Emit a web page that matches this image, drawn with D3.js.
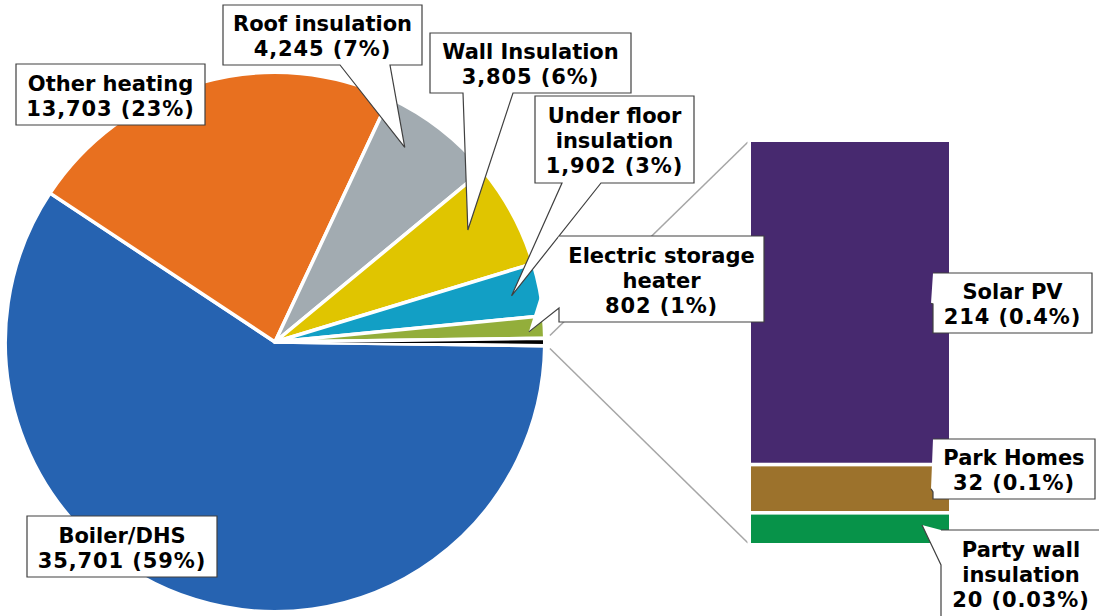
<!DOCTYPE html>
<html>
<head>
<meta charset="utf-8">
<script src="https://cdn.jsdelivr.net/npm/d3@7"></script>
<style>
  html, body { margin: 0; padding: 0; background: #fff; }
  svg { display: block; }
  text { font-family: "DejaVu Sans", Verdana, sans-serif; font-weight: bold; font-size: 21px; fill: #000; }
  tspan.num { letter-spacing: 0.9px; }
</style>
</head>
<body>
<svg id="chart" width="1099" height="616"></svg>
<script>
// Measures installed, split into the main pie and the "other" breakdown bar
const pieCategories = ["Boiler/DHS", "Other heating", "Roof insulation", "Wall Insulation",
                       "Under floor insulation", "Electric storage heater"];
const pieValues = [35701, 13703, 4245, 3805, 1902, 802];
const piePercents = ["59%", "23%", "7%", "6%", "3%", "1%"];
const pieColors = ["#2663b1", "#e8701f", "#a2abb1", "#e0c500", "#129fc5", "#93ae3b"];

const barCategories = ["Solar PV", "Park Homes", "Party wall insulation"];
const barValues = [214, 32, 20];
const barPercents = ["0.4%", "0.1%", "0.03%"];
const barColors = ["#47296f", "#9c722c", "#079349"];

const otherColor = "#000000";

// Label text lines for each category
const pieLabelLines = [["Boiler/DHS"], ["Other heating"], ["Roof insulation"], ["Wall Insulation"],
                       ["Under floor", "insulation"], ["Electric storage", "heater"]];
const barLabelLines = [["Solar PV"], ["Park Homes"], ["Party wall", "insulation"]];

const fmt = d3.format(",");
const svg = d3.select("#chart");
const gap = 3.5;   // white separator width

// ---- Pie ----
const cx = 275, cy = 342, R = 268;
const otherTotal = d3.sum(barValues);
const total = d3.sum(pieValues) + otherTotal;
const slices = pieValues.map((v, i) => ({ name: pieCategories[i], value: v, color: pieColors[i] }))
  .concat([{ name: "Other", value: otherTotal, color: otherColor }]);

const otherAngle = otherTotal / total * 2 * Math.PI;
const start = Math.PI / 2 + otherAngle / 2;   // the combined slice sits at 3 o'clock
const pie = d3.pie().sort(null).value(d => d.value).startAngle(start).endAngle(start + 2 * Math.PI);
const arcs = pie(slices);
const arc = d3.arc().innerRadius(0).outerRadius(R + gap / 2);

const gPie = svg.append("g").attr("transform", `translate(${cx},${cy})`);

// ---- Connector lines from the combined slice to the bar ----
const barX = 751, barW = 198, barTop = 142, barBottom = 543;
const oArc = arcs[arcs.length - 1];
const pt = (a, r) => [cx + r * Math.sin(a), cy - r * Math.cos(a)];
const spread = 0.01;
const e1 = pt(oArc.endAngle + spread, R + 7);
const e2 = pt(oArc.startAngle - spread, R + 7);
const topEdge = e1[1] < e2[1] ? e1 : e2;
const botEdge = e1[1] < e2[1] ? e2 : e1;
svg.append("line").attr("x1", topEdge[0]).attr("y1", topEdge[1])
  .attr("x2", barX - 3).attr("y2", barTop).attr("stroke", "#a6a6a6").attr("stroke-width", 1.5);
svg.append("line").attr("x1", botEdge[0]).attr("y1", botEdge[1])
  .attr("x2", barX - 3).attr("y2", barBottom).attr("stroke", "#a6a6a6").attr("stroke-width", 1.5);

gPie.selectAll("path.slice").data(arcs).join("path")
  .attr("class", "slice")
  .attr("d", arc)
  .attr("fill", d => d.data.color)
  .attr("stroke", "#fff")
  .attr("stroke-width", gap)
  .attr("stroke-linejoin", "round");

// ---- Stacked bar for the combined slice ----
const y = d3.scaleLinear().domain([0, otherTotal]).range([barBottom, barTop]);
// stack bottom-up: last category at the bottom
const stackOrder = barValues.map((v, i) => i).reverse();
let acc = 0;
const segs = [];
stackOrder.forEach(i => {
  segs[i] = { y0: acc, y1: acc + barValues[i], color: barColors[i] };
  acc += barValues[i];
});
const h2 = gap / 2;
svg.append("g").selectAll("rect").data(segs).join("rect")
  .attr("x", barX - h2).attr("width", barW + gap)
  .attr("y", d => y(d.y1) - (d.y1 === otherTotal ? h2 : 0))
  .attr("height", d => y(d.y0) - y(d.y1) + (d.y1 === otherTotal ? h2 : 0) + (d.y0 === 0 ? h2 : 0))
  .attr("fill", d => d.color)
  .attr("stroke", "#fff").attr("stroke-width", gap);

// ---- Callout labels ----
// box: [x, y, w, h]; pointer: side, base positions along that side, tip
const pieLabelLayout = [
  { box: [27, 516, 190, 61] },
  { box: [16, 64, 189, 61] },
  { box: [223, 5, 199, 60], side: "bottom", b: [340, 390], tipR: 234, tipDA: -4.1 },
  { box: [430, 33, 201, 60], side: "bottom", b: [463, 513], tipR: 223, tipDA: -1.9 },
  { box: [535, 96, 159, 87], side: "bottom", b: [562, 601], tipR: 241, tipDA: 0.2 },
  { box: [559, 236, 205, 86], side: "left", b: [287, 308], tipR: 254, tipDA: 0.9 }
];
const barLabelLayout = [
  { box: [933, 273, 159, 60], side: "left", b: [296, 304], tipX: 931 },
  { box: [933, 439, 162, 60], side: "left", b: [484, 492], tipX: 931 },
  { box: [941, 530, 160, 87], side: "left", b: [530, 565], tipX: 922, tipDy: -3 }
];

function calloutPath(L, tip) {
  const [x, yy, w, h] = L.box;
  if (!L.side) {
    return `M${x},${yy}H${x + w}V${yy + h}H${x}Z`;
  }
  if (L.side === "bottom") {
    return `M${x},${yy}H${x + w}V${yy + h}H${L.b[1]}L${tip[0]},${tip[1]}L${L.b[0]},${yy + h}H${x}Z`;
  }
  // left side: go round clockwise, pointer inserted on the way back up
  return `M${x},${yy}H${x + w}V${yy + h}H${x}V${L.b[1]}L${tip[0]},${tip[1]}L${L.b[0]}Z`;
}

function drawLabel(L, lines, tip) {
  const g = svg.append("g");
  g.append("path").attr("d", calloutPath(L, tip))
    .attr("fill", "#fff").attr("stroke", "#404040").attr("stroke-width", 1.2)
    .attr("stroke-linejoin", "miter");
  const [x, yy, w, h] = L.box;
  const mid = yy + h / 2;
  const n = lines.length;
  const t = g.append("text").attr("text-anchor", "middle");
  lines.forEach((s, i) => {
    t.append("tspan").attr("x", x + w / 2)
      .attr("class", i === n - 1 ? "num" : null)
      .attr("y", mid + (i - (n - 1) / 2) * 25 + 8.5).text(s);
  });
}

const toRad = Math.PI / 180;
pieLabelLayout.forEach((L, i) => {
  const a = arcs[i];
  let tip = null;
  if (L.side) {
    const m = (a.startAngle + a.endAngle) / 2 + (L.tipDA || 0) * toRad;
    tip = pt(m, L.tipR);
  }
  const lines = pieLabelLines[i].concat([`${fmt(pieValues[i])} (${piePercents[i]})`]);
  drawLabel(L, lines, tip);
});

barLabelLayout.forEach((L, i) => {
  const s = segs[i];
  const tip = [L.tipX, (y(s.y0) + y(s.y1)) / 2 + (L.tipDy || 0)];
  const lines = barLabelLines[i].concat([`${fmt(barValues[i])} (${barPercents[i]})`]);
  drawLabel(L, lines, tip);
});
</script>
</body>
</html>
